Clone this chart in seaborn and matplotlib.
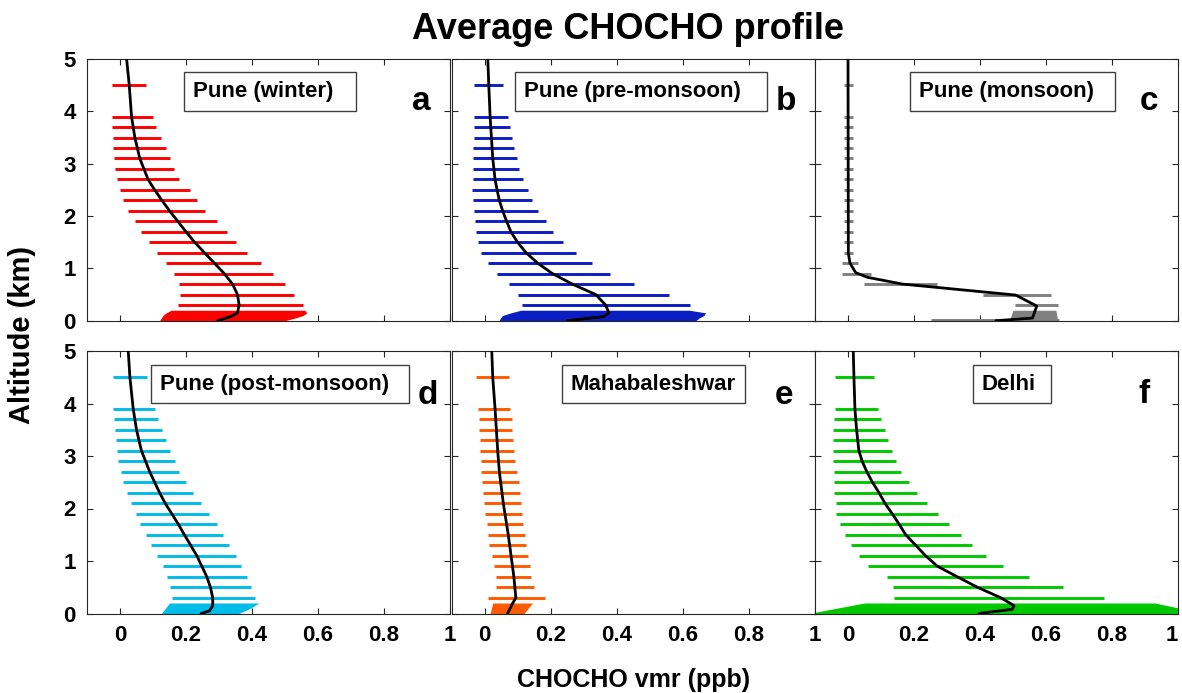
import matplotlib
matplotlib.use("Agg")
import matplotlib.pyplot as plt
from matplotlib.patches import Rectangle
import pandas as pd
import seaborn as sns

# ---------------------------------------------------------------------------
# Data: CHOCHO volume mixing ratio (ppb) profiles
# ---------------------------------------------------------------------------
# Altitudes (km) of the layer error bars, shared by all sites
BAR_ALT = [4.5, 3.9, 3.7, 3.5, 3.3, 3.1, 2.9, 2.7, 2.5, 2.3,
           2.1, 1.9, 1.7, 1.5, 1.3, 1.1, 0.9, 0.7, 0.5, 0.3]

# (a) Pune winter
winter_lo = [-0.025, -0.025, -0.023, -0.021, -0.021, -0.019, -0.015, -0.010, 0.000, 0.010,
             0.025, 0.045, 0.065, 0.087, 0.113, 0.138, 0.163, 0.178, 0.182, 0.177]
winter_hi = [0.080, 0.100, 0.110, 0.123, 0.138, 0.150, 0.165, 0.180, 0.211, 0.233,
             0.259, 0.293, 0.323, 0.353, 0.386, 0.426, 0.463, 0.499, 0.526, 0.556]
winter_sfc_alt = [0.0, 0.05, 0.10, 0.15, 0.20]
winter_sfc_lo = [0.120, 0.125, 0.130, 0.140, 0.155]
winter_sfc_hi = [0.500, 0.530, 0.555, 0.566, 0.560]
winter_prof_alt = [5.0, 4.5, 3.9, 3.5, 3.1, 2.7, 2.5, 2.3, 2.1, 1.9, 1.7,
                   1.5, 1.3, 1.1, 0.9, 0.7, 0.5, 0.3, 0.15, 0.08, 0.0]
winter_prof_val = [0.020, 0.028, 0.035, 0.045, 0.060, 0.085, 0.105, 0.127, 0.150, 0.175, 0.200,
                   0.226, 0.256, 0.286, 0.316, 0.341, 0.356, 0.361, 0.356, 0.336, 0.296]

# (b) Pune pre-monsoon
premon_lo = [-0.032, -0.033, -0.033, -0.033, -0.035, -0.035, -0.035, -0.035, -0.037, -0.035,
             -0.033, -0.030, -0.027, -0.020, -0.010, 0.010, 0.037, 0.073, 0.103, 0.114]
premon_hi = [0.055, 0.070, 0.077, 0.082, 0.090, 0.097, 0.106, 0.116, 0.131, 0.143,
             0.161, 0.186, 0.209, 0.239, 0.278, 0.325, 0.379, 0.454, 0.558, 0.623]
premon_sfc_alt = [0.0, 0.05, 0.10, 0.15, 0.20]
premon_sfc_lo = [0.045, 0.048, 0.055, 0.080, 0.110]
premon_sfc_hi = [0.640, 0.650, 0.665, 0.670, 0.620]
premon_prof_alt = [5.0, 4.5, 3.9, 3.5, 3.1, 2.7, 2.5, 2.3, 2.1, 1.9, 1.7,
                   1.5, 1.3, 1.1, 0.9, 0.7, 0.5, 0.3, 0.15, 0.08, 0.0]
premon_prof_val = [0.010, 0.013, 0.017, 0.021, 0.025, 0.032, 0.038, 0.045, 0.055, 0.067, 0.080,
                   0.100, 0.126, 0.161, 0.206, 0.266, 0.337, 0.367, 0.377, 0.362, 0.251]

# (c) Pune monsoon
monsoon_lo = [-0.013, -0.013, -0.013, -0.013, -0.013, -0.013, -0.013, -0.013, -0.013, -0.013,
              -0.013, -0.013, -0.013, -0.013, -0.013, -0.017, -0.017, 0.048, 0.410, 0.507]
monsoon_hi = [0.015, 0.015, 0.015, 0.015, 0.015, 0.015, 0.015, 0.015, 0.015, 0.015,
              0.015, 0.015, 0.015, 0.015, 0.015, 0.031, 0.071, 0.270, 0.616, 0.636]
monsoon_sfc_alt = [0.02, 0.20]
monsoon_sfc_lo = [0.490, 0.500]
monsoon_sfc_hi = [0.635, 0.630]
monsoon_ground = (0.01, 0.25, 0.64)   # altitude, low, high of the ground-level bar
monsoon_prof_alt = [5.0, 1.29, 1.10, 0.92, 0.83, 0.70, 0.49, 0.28, 0.05, 0.0]
monsoon_prof_val = [0.000, 0.001, 0.006, 0.023, 0.058, 0.165, 0.508, 0.572, 0.559, 0.448]

# (d) Pune post-monsoon
postmon_lo = [-0.020, -0.020, -0.017, -0.015, -0.013, -0.010, -0.005, 0.003, 0.010, 0.020,
              0.032, 0.047, 0.062, 0.080, 0.093, 0.113, 0.130, 0.143, 0.152, 0.157]
postmon_hi = [0.083, 0.105, 0.115, 0.128, 0.140, 0.153, 0.167, 0.180, 0.201, 0.221,
              0.246, 0.271, 0.293, 0.313, 0.331, 0.351, 0.368, 0.386, 0.396, 0.409]
postmon_sfc_alt = [0.0, 0.10, 0.20]
postmon_sfc_lo = [0.125, 0.138, 0.150]
postmon_sfc_hi = [0.360, 0.395, 0.421]
postmon_prof_alt = [5.0, 4.5, 3.9, 3.5, 3.1, 2.7, 2.5, 2.3, 2.1, 1.9, 1.7,
                    1.5, 1.3, 1.1, 0.9, 0.7, 0.5, 0.3, 0.15, 0.05, 0.0]
postmon_prof_val = [0.025, 0.030, 0.040, 0.050, 0.065, 0.090, 0.105, 0.120, 0.137, 0.157, 0.177,
                    0.195, 0.214, 0.233, 0.248, 0.263, 0.274, 0.281, 0.281, 0.271, 0.246]

# (e) Mahabaleshwar
mahab_lo = [-0.025, -0.020, -0.018, -0.018, -0.015, -0.013, -0.012, -0.010, -0.007, -0.005,
            -0.002, 0.002, 0.008, 0.012, 0.015, 0.022, 0.028, 0.035, 0.035, 0.010]
mahab_hi = [0.073, 0.078, 0.082, 0.084, 0.086, 0.089, 0.092, 0.097, 0.105, 0.107,
            0.110, 0.113, 0.118, 0.122, 0.127, 0.132, 0.137, 0.140, 0.150, 0.182]
mahab_sfc_alt = [0.0, 0.20]
mahab_sfc_lo = [0.017, 0.025]
mahab_sfc_hi = [0.120, 0.145]
mahab_prof_alt = [5.0, 4.5, 3.9, 3.1, 2.7, 2.1, 1.5, 0.7, 0.3, 0.19, 0.0]
mahab_prof_val = [0.022, 0.025, 0.032, 0.040, 0.045, 0.057, 0.072, 0.089, 0.095, 0.085, 0.070]

# (f) Delhi
delhi_lo = [-0.039, -0.040, -0.042, -0.044, -0.045, -0.045, -0.044, -0.042, -0.042, -0.042,
            -0.037, -0.035, -0.025, -0.010, 0.010, 0.033, 0.062, 0.119, 0.136, 0.139]
delhi_hi = [0.079, 0.092, 0.101, 0.111, 0.121, 0.132, 0.144, 0.160, 0.185, 0.210,
            0.240, 0.273, 0.306, 0.341, 0.377, 0.417, 0.470, 0.548, 0.652, 0.776]
delhi_sfc_alt = [0.0, 0.20]
delhi_sfc_lo = [-0.120, 0.050]
delhi_sfc_hi = [1.080, 0.930]
delhi_prof_alt = [5.0, 4.5, 3.9, 3.5, 3.1, 2.9, 2.7, 2.5, 2.3, 2.1, 1.9, 1.7,
                  1.5, 1.3, 1.1, 0.9, 0.7, 0.5, 0.3, 0.15, 0.08, 0.0]
delhi_prof_val = [0.016, 0.018, 0.021, 0.026, 0.033, 0.043, 0.057, 0.074, 0.094, 0.112, 0.134, 0.155,
                  0.175, 0.205, 0.235, 0.271, 0.331, 0.392, 0.463, 0.503, 0.498, 0.397]

SITES = ["Pune (winter)", "Pune (pre-monsoon)", "Pune (monsoon)",
         "Pune (post-monsoon)", "Mahabaleshwar", "Delhi"]
LETTERS = ["a", "b", "c", "d", "e", "f"]
COLORS = ["#FF0000", "#0A1EC4", "#808080", "#00BCE8", "#FF5A00", "#00C800"]

X_TICKS = [0, 0.2, 0.4, 0.6, 0.8, 1.0]
Y_TICKS = [0, 1, 2, 3, 4, 5]

panels = [
    (winter_lo, winter_hi, winter_sfc_alt, winter_sfc_lo, winter_sfc_hi, winter_prof_alt, winter_prof_val),
    (premon_lo, premon_hi, premon_sfc_alt, premon_sfc_lo, premon_sfc_hi, premon_prof_alt, premon_prof_val),
    (monsoon_lo, monsoon_hi, monsoon_sfc_alt, monsoon_sfc_lo, monsoon_sfc_hi, monsoon_prof_alt, monsoon_prof_val),
    (postmon_lo, postmon_hi, postmon_sfc_alt, postmon_sfc_lo, postmon_sfc_hi, postmon_prof_alt, postmon_prof_val),
    (mahab_lo, mahab_hi, mahab_sfc_alt, mahab_sfc_lo, mahab_sfc_hi, mahab_prof_alt, mahab_prof_val),
    (delhi_lo, delhi_hi, delhi_sfc_alt, delhi_sfc_lo, delhi_sfc_hi, delhi_prof_alt, delhi_prof_val),
]

# ---------------------------------------------------------------------------
# Style
# ---------------------------------------------------------------------------
sns.set_theme(style="ticks")
plt.rcParams["font.family"] = ["Liberation Sans", "DejaVu Sans"]
plt.rcParams["font.weight"] = "bold"
plt.rcParams["axes.labelweight"] = "bold"
plt.rcParams["text.color"] = "black"
plt.rcParams["axes.labelcolor"] = "black"
plt.rcParams["xtick.labelcolor"] = "black"
plt.rcParams["ytick.labelcolor"] = "black"
FRAME = "#262626"

W, H = 1182, 693
fig = plt.figure(figsize=(W / 100, H / 100), dpi=100)

# Panel frames in pixels: left edge of each column, top/bottom of each row
COL_LEFT = [87, 451.5, 815]
COL_W = 363
ROW_TOP = [59, 351]
ROW_BOT = [320.7, 613.5]

# Site label boxes (axes fraction: x0, x1, y0, y1)
BOXES = [(0.266, 0.742, 0.801, 0.949), (0.174, 0.870, 0.801, 0.949), (0.261, 0.826, 0.801, 0.949),
         (0.176, 0.887, 0.801, 0.947), (0.304, 0.809, 0.801, 0.947), (0.434, 0.651, 0.801, 0.947)]
LETTER_POS = [(0.920, 0.837), (0.921, 0.837), (0.920, 0.837),
              (0.939, 0.832), (0.916, 0.832), (0.907, 0.834)]

for i, (lo, hi, s_alt, s_lo, s_hi, p_alt, p_val) in enumerate(panels):
    row, col = divmod(i, 3)
    left = COL_LEFT[col] / W
    bottom = 1 - ROW_BOT[row] / H
    height = (ROW_BOT[row] - ROW_TOP[row]) / H
    ax = fig.add_axes([left, bottom, COL_W / W, height])
    color = COLORS[i]

    # layer error bars
    ax.hlines(BAR_ALT, lo, hi, colors=color, linewidth=2.1, zorder=2)
    # dense near-surface levels
    ax.fill_betweenx(s_alt, s_lo, s_hi, color=color, linewidth=0, zorder=2)
    if i == 2:
        g_alt, g_lo, g_hi = monsoon_ground
        ax.hlines([g_alt], [g_lo], [g_hi], colors=color, linewidth=2.1, zorder=2)

    # mean profile
    prof = pd.DataFrame({"vmr": p_val, "alt": p_alt})
    sns.lineplot(data=prof, x="vmr", y="alt", sort=False, estimator=None,
                 color="black", linewidth=2.0, ax=ax, zorder=3, legend=False)

    ax.set_xlim(-0.1, 1.0)
    ax.set_ylim(0, 5)
    ax.set_xticks(X_TICKS)
    ax.set_yticks(Y_TICKS)
    ax.set_xlabel("")
    ax.set_ylabel("")
    ax.tick_params(direction="in", top=True, right=True, length=4, width=0.8,
                   color=FRAME, labelsize=16, pad=8)
    if row == 1:
        labels = ax.set_xticklabels([f"{t:g}" for t in X_TICKS], fontweight="bold")
        if col == 2:
            labels[-1].set_horizontalalignment("right")
    else:
        ax.set_xticklabels([])
    if col == 0:
        ax.set_yticklabels([f"{t:g}" for t in Y_TICKS], fontweight="bold")
    else:
        ax.set_yticklabels([])
    for sp in ax.spines.values():
        sp.set_color(FRAME)
        sp.set_linewidth(0.8)

    # site label box
    bx0, bx1, by0, by1 = BOXES[i]
    ax.add_patch(Rectangle((bx0, by0), bx1 - bx0, by1 - by0, transform=ax.transAxes,
                           facecolor="white", edgecolor="#404040", linewidth=1.0, zorder=5))
    ax.text(bx0 + 9 / COL_W, (by0 + by1) / 2, SITES[i], transform=ax.transAxes,
            ha="left", va="center", fontsize=16, fontweight="bold", color="black", zorder=6)
    lx, ly = LETTER_POS[i]
    ax.text(lx, ly, LETTERS[i], transform=ax.transAxes, ha="center", va="center",
            fontsize=24, fontweight="bold", color="black", zorder=6)

fig.text(0.531, 0.957, "Average CHOCHO profile", ha="center", va="center",
         fontsize=26, fontweight="bold")
fig.text(0.536, 0.019, "CHOCHO vmr (ppb)", ha="center", va="center",
         fontsize=18, fontweight="bold")
fig.text(0.019, 0.517, "Altitude (km)", ha="center", va="center", rotation=90,
         fontsize=21, fontweight="bold")

fig.savefig("out.png", dpi=100, facecolor="white")
